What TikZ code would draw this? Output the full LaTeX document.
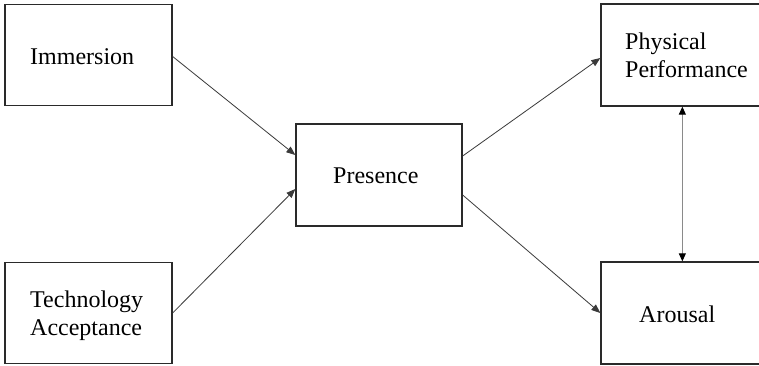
\documentclass[tikz,border=0pt]{standalone}
\usepackage{fontspec}
\setmainfont{Liberation Serif}
\newfontfamily\boxfont{Liberation Serif}
\usetikzlibrary{arrows.meta}
\definecolor{edge}{HTML}{2A2A2A}
\definecolor{wire}{HTML}{3A3A3A}
\definecolor{wirelight}{HTML}{8A8A8A}
\begin{document}
\begin{tikzpicture}[x=1pt,y=-1pt,
  box/.style={draw=edge,line width=1.3pt,rectangle,inner sep=0pt,fill=white},
  lbl/.style={inner sep=0pt,anchor=base west,font=\boxfont\fontsize{24}{28.8}\selectfont,text=black},
  link/.style={draw=wire,line width=0.8pt,-{Triangle[length=9pt,width=7pt]}},
  duallink/.style={draw=wirelight,line width=1pt,{Triangle[length=8pt,width=7pt,color=black]}-{Triangle[length=8pt,width=7pt,color=black]}}]
  \useasboundingbox (0,0) rectangle (759,366);
  \clip (0,0) rectangle (759,366);
  \fill[white] (0,0) rectangle (759,366);

  % boxes
  \node[box,minimum width=167pt,minimum height=101pt] (imm) at (88.5,55) {};
  \node[box,minimum width=167pt,minimum height=101pt] (tec) at (88.5,313) {};
  \node[box,minimum width=166pt,minimum height=102pt] (pre) at (379,175) {};
  \node[box,minimum width=166pt,minimum height=102pt] (phy) at (684,55) {};
  \node[box,minimum width=166pt,minimum height=102pt] (aro) at (684,313) {};

  % labels
  \node[lbl] (timm) at (30,65) {Immersion};
  \node[lbl] (ttec1) at (30,307) {Technology};
  \node[lbl] (ttec2) at (30,335) {Acceptance};
  \node[lbl] (tpre) at (333,183) {Presence};
  \node[lbl] (tphy1) at (625,50) {Physical};
  \node[lbl] (tphy2) at (625,78) {Performance};
  \node[lbl] (taro) at (639,322) {Arousal};

  % paths
  \draw[link] ([yshift=-1.5pt]imm.east) -- ([yshift=20pt]pre.west);
  \draw[link] (tec.east) -- ([yshift=-14pt]pre.west);
  \draw[link] ([yshift=19pt]pre.east) -- ([yshift=-3pt]phy.west);
  \draw[link] ([yshift=-20pt]pre.east) -- (aro.west);
  \draw[duallink] ([xshift=82pt]phy.south west) -- ([xshift=82pt]aro.north west);
\end{tikzpicture}
\end{document}
